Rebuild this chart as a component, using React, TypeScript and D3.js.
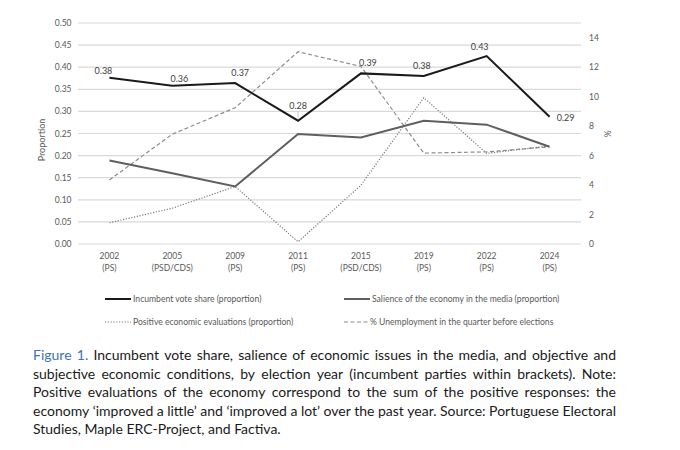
import React from "react";
import * as d3 from "d3";

const years = ["2002", "2005", "2009", "2011", "2015", "2019", "2022", "2024"];
const parties = ["(PS)", "(PSD/CDS)", "(PS)", "(PS)", "(PSD/CDS)", "(PS)", "(PS)", "(PS)"];
const voteShare = [0.376, 0.358, 0.364, 0.279, 0.386, 0.38, 0.425, 0.288];
const voteLabels = ["0.38", "0.36", "0.37", "0.28", "0.39", "0.38", "0.43", "0.29"];
const salience = [0.189, 0.16, 0.13, 0.249, 0.241, 0.279, 0.27, 0.22];
const positiveEval = [0.048, 0.081, 0.13, 0.005, 0.133, 0.331, 0.205, 0.222];
const unemployment = [4.35, 7.45, 9.25, 13.05, 12.05, 6.17, 6.25, 6.6];
const leftTicks = [0, 0.05, 0.1, 0.15, 0.2, 0.25, 0.3, 0.35, 0.4, 0.45, 0.5];
const rightTicks = [0, 2, 4, 6, 8, 10, 12, 14];

// label offsets (style)
const labelOffsets: [number, number][] = [
  [-6, -3.5], [7, -4], [5, -7], [0, -12], [7, -7], [-2, -7], [-7, -6], [16, 4],
];

const captionLines = [
  "Incumbent vote share, salience of economic issues in the media, and objective and",
  "subjective economic conditions, by election year (incumbent parties within brackets). Note:",
  "Positive evaluations of the economy correspond to the sum of the positive responses: the",
  "economy \u2018improved a little\u2019 and \u2018improved a lot\u2019 over the past year. Source: Portuguese Electoral",
  "Studies, Maple ERC-Project, and Factiva.",
];

const chartFont = "Lato, 'Open Sans', sans-serif";
const capFont = "Lato";
const capSize = 14;

let ctx: CanvasRenderingContext2D | null = null;
function measure(t: string, font: string) {
  if (!ctx) ctx = document.createElement("canvas").getContext("2d");
  if (!ctx) return t.length * 6;
  ctx.font = font;
  return ctx.measureText(t).width;
}

function JustifiedLine({ text, x, y, width, justify, prefix }: any) {
  const font = `${capSize}px ${capFont}`;
  const boldFont = `${capSize}px ${capFont}`;
  const words: { w: string; color: string; f: string }[] = [];
  if (prefix) {
    prefix.split(" ").forEach((w: string) => words.push({ w, color: "#4172b5", f: boldFont }));
  }
  text.split(" ").forEach((w: string) => words.push({ w, color: "#1a1a1a", f: font }));
  const widths = words.map((o) => measure(o.w, o.f));
  const total = widths.reduce((a, b) => a + b, 0);
  const space = justify ? (width - total) / (words.length - 1) : measure(" ", font);
  let cx = x;
  return (
    <g>
      {words.map((o, i) => {
        const el = (
          <text key={i} x={cx} y={y} fill={o.color} style={{ font: o.f }}>
            {o.w}
          </text>
        );
        cx += widths[i] + space;
        return el;
      })}
    </g>
  );
}

export default function App() {
  const x = d3.scaleBand<string>().domain(years).range([78, 581]);
  const yL = d3.scaleLinear().domain([0, 0.5]).range([244, 23]);
  const yR = d3.scaleLinear().domain([0, 15]).range([244, 23]);
  const cx = (i: number) => (x(years[i]) as number) + x.bandwidth() / 2;

  const lineL = d3.line<number>().x((_, i) => cx(i)).y((d) => yL(d));
  const lineR = d3.line<number>().x((_, i) => cx(i)).y((d) => yR(d));

  const tickStyle = { fontFamily: chartFont, fontSize: 8.5, fill: "#595959" };

  return (
    <svg width={680} height={450} style={{ position: "absolute", left: 0, top: 0, background: "#fff" }}>
      {leftTicks.map((t) => (
        <g key={t}>
          <line x1={78} x2={581} y1={yL(t)} y2={yL(t)} stroke="#d9d9d9" strokeWidth={1.2} />
          <text x={71.5} y={yL(t) + 3} textAnchor="end" style={tickStyle}>
            {t.toFixed(2)}
          </text>
        </g>
      ))}
      {rightTicks.map((t) => (
        <text key={t} x={589} y={yR(t) + 3} style={tickStyle}>
          {t}
        </text>
      ))}
      <text transform="translate(45,140) rotate(-90)" textAnchor="middle" style={{ ...tickStyle, fontSize: 9 }}>
        Proportion
      </text>
      <text transform="translate(604,134) rotate(90)" textAnchor="middle" style={{ ...tickStyle, fontSize: 8.5 }}>
        %
      </text>
      {years.map((yr, i) => (
        <g key={yr}>
          <text x={cx(i)} y={259} textAnchor="middle" style={tickStyle}>
            {yr}
          </text>
          <text x={cx(i)} y={271} textAnchor="middle" style={tickStyle}>
            {parties[i]}
          </text>
        </g>
      ))}

      <path d={lineR(unemployment) || ""} fill="none" stroke="#8c8c8c" strokeWidth={1.2} strokeDasharray="4,2.5" />
      <path d={lineL(positiveEval) || ""} fill="none" stroke="#7a7a7a" strokeWidth={1.2} strokeDasharray="1.2,1.6" />
      <path d={lineL(salience) || ""} fill="none" stroke="#5f5f5f" strokeWidth={2} />
      <path d={lineL(voteShare) || ""} fill="none" stroke="#1a1a1a" strokeWidth={2} />

      {voteShare.map((v, i) => (
        <text
          key={i}
          x={cx(i) + labelOffsets[i][0]}
          y={yL(v) + labelOffsets[i][1]}
          textAnchor="middle"
          style={{ ...tickStyle, fontSize: 9, fill: "#404040" }}
        >
          {voteLabels[i]}
        </text>
      ))}
      <line x1={cx(3)} x2={cx(3)} y1={yL(voteShare[3]) - 9} y2={yL(voteShare[3]) - 2} stroke="#bfbfbf" strokeWidth={0.8} />

      {/* legend */}
      <g style={{ fontFamily: chartFont, fontSize: 8.6, fill: "#595959" }}>
        <line x1={105} x2={131} y1={299} y2={299} stroke="#1a1a1a" strokeWidth={2} />
        <text x={133} y={302}>Incumbent vote share (proportion)</text>
        <line x1={105} x2={131} y1={322} y2={322} stroke="#7a7a7a" strokeWidth={1.2} strokeDasharray="1.2,1.6" />
        <text x={133} y={325}>Positive economic evaluations (proportion)</text>
        <line x1={344} x2={370} y1={299} y2={299} stroke="#5f5f5f" strokeWidth={2} />
        <text x={372} y={302}>Salience of the economy in the media (proportion)</text>
        <line x1={344} x2={369} y1={322} y2={322} stroke="#8c8c8c" strokeWidth={1.2} strokeDasharray="4,2.5" />
        <text x={370} y={325}>% Unemployment in the quarter before elections</text>
      </g>

      {captionLines.map((l, i) => (
        <JustifiedLine
          key={i}
          text={l}
          x={33}
          y={360 + i * 18.6}
          width={583}
          justify={i < captionLines.length - 1}
          prefix={i === 0 ? "Figure 1." : null}
        />
      ))}
    </svg>
  );
}
